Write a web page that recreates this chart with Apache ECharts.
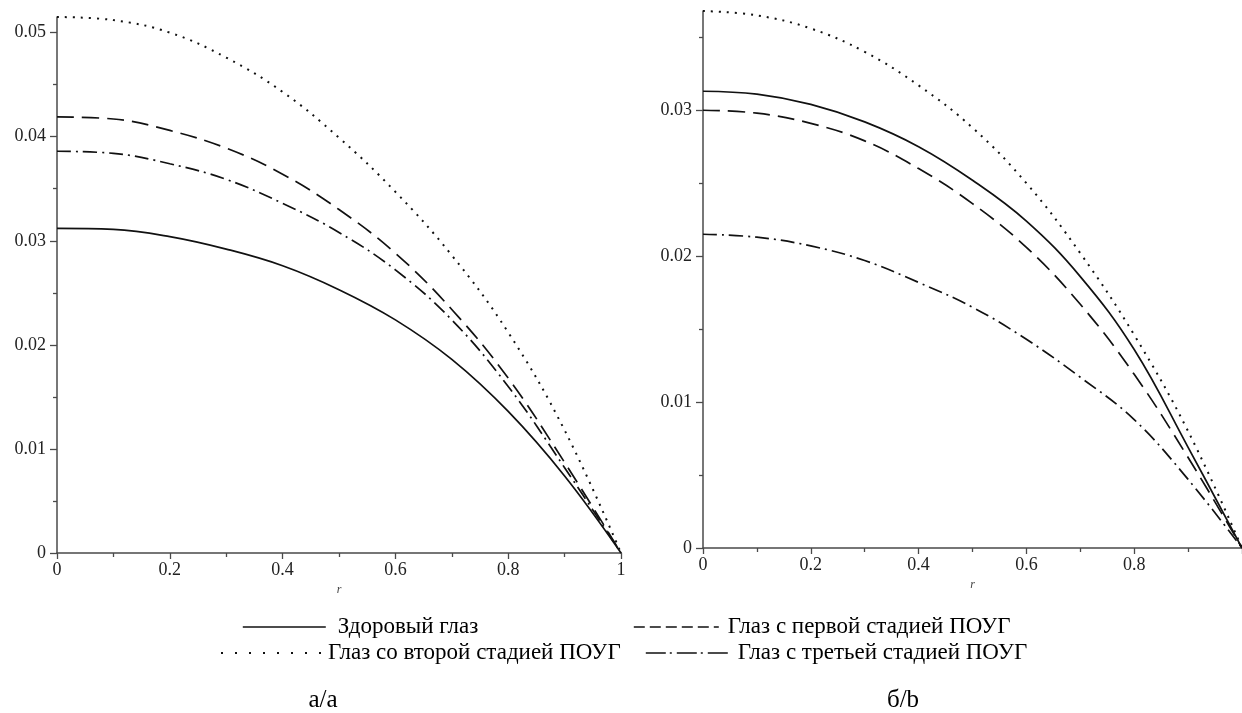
<!DOCTYPE html>
<html>
<head>
<meta charset="utf-8">
<title>Профили скорости</title>
<script src="https://cdn.jsdelivr.net/npm/echarts@6/dist/echarts.min.js"></script>
<style>
  html, body { margin: 0; padding: 0; background: #fff; }
  #chart { width: 1242px; height: 713px; }
</style>
</head>
<body>
<div id="chart"></div>
<script>
// radial coordinate r (shared by both panels)
const rValues = [0, 0.1, 0.2, 0.3, 0.4, 0.5, 0.6, 0.7, 0.8, 0.9, 1];

// panel а/a
const healthyA = [0.0312, 0.0311, 0.0304, 0.0292, 0.0276, 0.0253, 0.0224, 0.0186, 0.0136, 0.0074, 0];
const stage1A  = [0.0419, 0.0417, 0.0406, 0.0389, 0.0364, 0.0330, 0.0288, 0.0234, 0.0168, 0.0087, 0];
const stage2A  = [0.0515, 0.0512, 0.0500, 0.0476, 0.0443, 0.0399, 0.0347, 0.0286, 0.0212, 0.0118, 0];
const stage3A  = [0.0386, 0.0384, 0.0374, 0.0359, 0.0336, 0.0308, 0.0272, 0.0224, 0.0160, 0.0082, 0];

// panel б/b
const healthyB = [0.0313, 0.0311, 0.0304, 0.0292, 0.0275, 0.0252, 0.0224, 0.0186, 0.0136, 0.0069, 0];
const stage1B  = [0.0300, 0.0298, 0.0291, 0.0279, 0.0260, 0.0236, 0.0206, 0.0167, 0.0119, 0.0062, 0];
const stage2B  = [0.0368, 0.0365, 0.0356, 0.0340, 0.0317, 0.0288, 0.0250, 0.0202, 0.0146, 0.0080, 0];
const stage3B  = [0.0215, 0.0213, 0.0207, 0.0197, 0.0182, 0.0165, 0.0143, 0.0117, 0.0088, 0.0047, 0];

// tick labels (the right panel runs off the page edge at r = 1)
const xTicksA = [0, 0.2, 0.4, 0.6, 0.8, 1];
const xTicksB = [0, 0.2, 0.4, 0.6, 0.8];
const yTicksA = [0, 0.01, 0.02, 0.03, 0.04, 0.05];
const yMinorA = [0.005, 0.015, 0.025, 0.035, 0.045];
const yTicksB = [0, 0.01, 0.02, 0.03];
const yMinorB = [0.005, 0.015, 0.025, 0.035];

const names = [
  'Здоровый глаз',
  'Глаз с первой стадией ПОУГ',
  'Глаз со второй стадией ПОУГ',
  'Глаз с третьей стадией ПОУГ'
];
const panelLabels = ['а/a', 'б/b'];

const FONT = 'Liberation Serif';
const INK = '#111';
const AXIS = '#4a4a4a';

// dash patterns for the curves and for the legend samples
const plotDash = ['solid', [17, 8], [2, 6], [14, 5, 2, 5]];
const legendDash = ['solid', [11, 5], [2, 12], [20, 4, 2, 5]];

const chart = echarts.init(document.getElementById('chart'), null, { renderer: 'canvas' });

function xAxisFor(gridIndex, ticks) {
  return {
    type: 'value', gridIndex, min: 0, max: 1, interval: 0.2,
    name: 'r', nameLocation: 'middle', nameGap: 30,
    nameTextStyle: { fontFamily: FONT, fontStyle: 'italic', fontSize: 12, color: '#444' },
    axisLine: { lineStyle: { color: AXIS, width: 1.5 } },
    axisTick: { length: 6, lineStyle: { color: AXIS, width: 1.3 } },
    minorTick: { show: true, splitNumber: 2, length: 4, lineStyle: { color: AXIS, width: 1.3 } },
    axisLabel: {
      fontFamily: FONT, fontSize: 18, color: '#222', margin: 8,
      customValues: ticks
    },
    splitLine: { show: false }
  };
}

function yMajor(gridIndex, max, ticks) {
  return {
    type: 'value', gridIndex, min: 0, max, position: 'left',
    axisLine: { show: true, lineStyle: { color: AXIS, width: 1.5 } },
    axisTick: { show: true, length: 7, customValues: ticks, lineStyle: { color: AXIS, width: 1.3 } },
    axisLabel: { fontFamily: FONT, fontSize: 18, color: '#222', margin: 11, customValues: ticks },
    splitLine: { show: false }
  };
}

function yMinor(gridIndex, max, ticks) {
  return {
    type: 'value', gridIndex, min: 0, max, position: 'left', offset: 0,
    axisLine: { show: false },
    axisTick: { show: true, length: 4, customValues: ticks, lineStyle: { color: AXIS, width: 1.3 } },
    axisLabel: { show: false },
    splitLine: { show: false }
  };
}

function pairs(arr) {
  return rValues.map((r, i) => [r, arr[i]]);
}

function curve(idx, values, xAxisIndex, yAxisIndex) {
  return {
    type: 'line', name: names[idx], xAxisIndex, yAxisIndex,
    data: pairs(values),
    smooth: 0.4, symbol: 'none', silent: true,
    lineStyle: { color: INK, width: idx === 2 ? 2 : 1.7, type: plotDash[idx] },
    itemStyle: { color: INK }
  };
}

// one legend block per entry so each sample line keeps its own length
function legendItem(idx, left, top, itemWidth, gap) {
  return {
    data: [names[idx]], left, top, padding: 0, orient: 'horizontal',
    itemWidth, itemHeight: 24, selectedMode: false,
    itemStyle: { opacity: 0, borderWidth: 0 },
    lineStyle: { type: legendDash[idx], width: idx === 2 ? 2 : 1.6, color: INK },
    textStyle: { fontFamily: FONT, fontSize: 23, color: '#000', lineHeight: 24, padding: [0, 0, 0, gap] }
  };
}

const option = {
  animation: false,
  backgroundColor: '#fff',
  grid: [
    { left: 57, top: 17, width: 564, height: 536, containLabel: false },
    { left: 703, top: 11, width: 542, height: 537, containLabel: false }
  ],
  xAxis: [xAxisFor(0, xTicksA), xAxisFor(1, xTicksB)],
  yAxis: [
    yMajor(0, 0.0515, yTicksA),
    yMinor(0, 0.0515, yMinorA),
    yMajor(1, 0.0368, yTicksB),
    yMinor(1, 0.0368, yMinorB)
  ],
  legend: [
    legendItem(0, 242, 615, 83, 7),
    legendItem(1, 633, 615, 85, 4),
    legendItem(2, 220, 641, 100, 2),
    legendItem(3, 645, 641, 85, 2)
  ],
  graphic: [
    { type: 'text', x: 323, y: 700, style: { text: panelLabels[0], font: '25px "' + FONT + '"', fill: '#000', align: 'center', verticalAlign: 'middle' } },
    { type: 'text', x: 903, y: 700, style: { text: panelLabels[1], font: '25px "' + FONT + '"', fill: '#000', align: 'center', verticalAlign: 'middle' } }
  ],
  series: [
    curve(0, healthyA, 0, 0),
    curve(1, stage1A, 0, 0),
    curve(2, stage2A, 0, 0),
    curve(3, stage3A, 0, 0),
    curve(0, healthyB, 1, 2),
    curve(1, stage1B, 1, 2),
    curve(2, stage2B, 1, 2),
    curve(3, stage3B, 1, 2)
  ]
};

chart.setOption(option);
</script>
</body>
</html>
